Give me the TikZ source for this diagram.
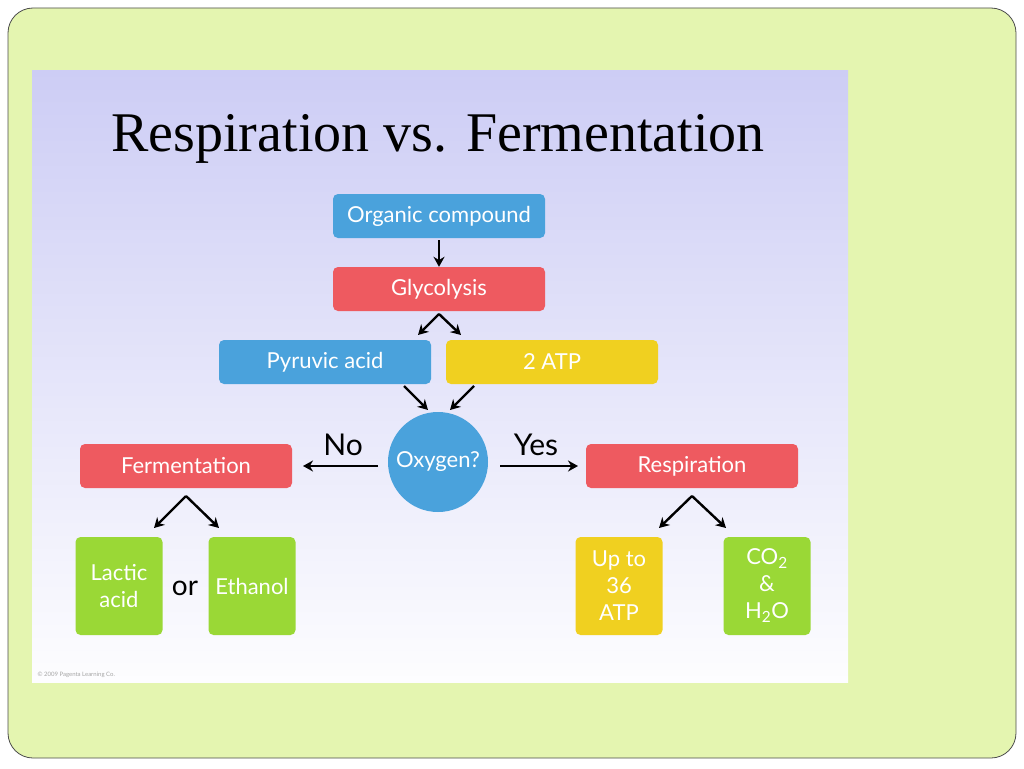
\documentclass[tikz,border=0pt]{standalone}
\usepackage{fontspec}
\setmainfont{Liberation Serif}
\newfontfamily\boxfont{Lato}
\usetikzlibrary{arrows.meta}
\definecolor{bgg}{HTML}{E4F5B0}
\definecolor{cblue}{HTML}{4AA2DC}
\definecolor{cred}{HTML}{EE5A60}
\definecolor{cyel}{HTML}{F0D020}
\definecolor{cgrn}{HTML}{9AD836}
\definecolor{lav}{HTML}{CDCDF5}
\begin{document}
\begin{tikzpicture}[x=1pt,y=-1pt,
  bx/.style={rounded corners=5pt,text=white,font=\boxfont\fontsize{22}{27}\selectfont,align=center,inner sep=0pt},
  wide/.style={bx,minimum width=212pt,minimum height=44pt},
  tall/.style={bx,minimum width=87pt,minimum height=98pt},
  ar/.style={-{Stealth[length=10pt,width=11pt]},line width=2.4pt}]
\useasboundingbox (0,0) rectangle (1024,768);
\draw[fill=bgg,draw=black!70,line width=0.8pt,rounded corners=25pt] (8,8) rectangle (1016,758);
\shade[top color=lav,bottom color=white!96!lav] (32,70) rectangle (848,682);
\node[font=\fontsize{56}{60}\selectfont] (title) at (438,139) {Respiration vs. Fermentation};
\node[wide,fill=cblue] (org) at (439,216) {Organic compound};
\node[wide,fill=cred] (gly) at (439,289) {Glycolysis};
\node[wide,fill=cblue] (pyr) at (325,362) {Pyruvic acid};
\node[wide,fill=cyel] (atp) at (552,362) {2 ATP};
\node[circle,fill=cblue,minimum size=100pt,inner sep=0pt,text=white,font=\boxfont\fontsize{22}{25}\selectfont] (oxy) at (438,462) {Oxygen?};
\node[wide,fill=cred] (fer) at (186,466) {Fermentation};
\node[wide,fill=cred] (res) at (692,466) {Respiration};
\node[tall,fill=cgrn] (lac) at (119,586) {Lactic\\acid};
\node[tall,fill=cgrn] (eth) at (252,586) {Ethanol};
\node[font=\boxfont\fontsize{28}{30}\selectfont] (or) at (185,588) {or};
\node[tall,fill=cyel] (up) at (619,586) {Up to\\36\\ATP};
\node[tall,fill=cgrn] (co) at (767,586) {CO\textsubscript{2}\\\&\\H\textsubscript{2}O};
\node[font=\boxfont\fontsize{6}{7}\selectfont,text=black!35,anchor=west] (cp) at (34,675) {\textcopyright\ 2009 Pagenta Learning Co.};
\draw[ar] (org.south) ++(0,2) coordinate (a1) -- (gly.north);
\coordinate (g0) at (439,314);
\draw[ar] (g0) -- (418,335) coordinate (g1);
\draw[ar] (g0) -- (461,335) coordinate (g2);
\draw[ar] (404,386) coordinate (p0) -- (428,410) coordinate (p1);
\draw[ar] (474,386) coordinate (q0) -- (450,410) coordinate (q1);
\draw[ar] (378,466) coordinate (n0) -- (303,466) coordinate (n1);
\draw[ar] (500,466) coordinate (y0) -- (578,466) coordinate (y1);
\node[font=\boxfont\fontsize{30}{32}\selectfont] (no) at (343,445) {No};
\node[font=\boxfont\fontsize{30}{32}\selectfont] (yes) at (536,445) {Yes};
\coordinate (f0) at (186,496);
\draw[ar] (f0) -- (154,528) coordinate (f1);
\draw[ar] (f0) -- (219,528) coordinate (f2);
\coordinate (r0) at (692,496);
\draw[ar] (r0) -- (659,528) coordinate (r1);
\draw[ar] (r0) -- (726,528) coordinate (r2);
\end{tikzpicture}
\end{document}
